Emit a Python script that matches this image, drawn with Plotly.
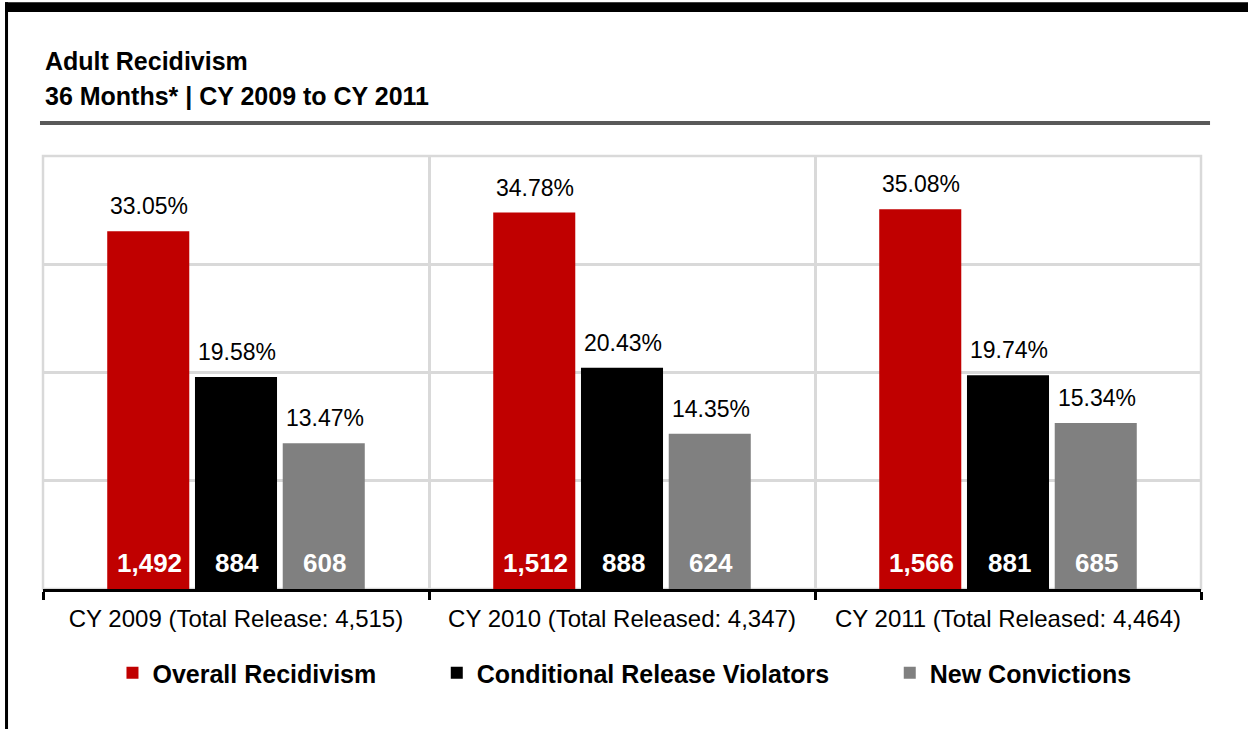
import plotly.graph_objects as go

categories = ["CY 2009 (Total Release: 4,515)",
              "CY 2010 (Total Released: 4,347)",
              "CY 2011 (Total Released: 4,464)"]
series_names = ["Overall Recidivism", "Conditional Release Violators", "New Convictions"]
overall_pct = [33.05, 34.78, 35.08]
overall_n = [1492, 1512, 1566]
crv_pct = [19.58, 20.43, 19.74]
crv_n = [884, 888, 881]
newc_pct = [13.47, 14.35, 15.34]
newc_n = [608, 624, 685]

colors = ["#C00000", "#000000", "#808080"]
FONT = "Liberation Sans, Arial, sans-serif"
NB = "\u00a0"

BARGAP = 0.318
PLOT_W = 1248 - 43 - 47
slot_px = PLOT_W / len(categories) * (1 - BARGAP) / 3

fig = go.Figure()
data = [(overall_pct, overall_n), (crv_pct, crv_n), (newc_pct, newc_n)]
legend_pad = [NB * 8, NB * 8, ""]
annotations = []
for i, (name, (pct, cnt)) in enumerate(zip(series_names, data)):
    fig.add_trace(go.Bar(
        x=categories, y=pct, name=name + legend_pad[i], offsetgroup=str(i),
        marker=dict(color=colors[i], line=dict(width=0)),
        hoverinfo="skip",
    ))
    shift = (i - 1) * slot_px + 1
    for c, p, n in zip(categories, pct, cnt):
        annotations.append(dict(
            x=c, y=p, xref="x", yref="y", text=f"{p:.2f}%", showarrow=False,
            xanchor="center", yanchor="middle", xshift=shift, yshift=25,
            font=dict(family=FONT, size=23, color="#000000")))
        annotations.append(dict(
            x=c, y=0, xref="x", yref="y", text=f"<b>{n:,}</b>", showarrow=False,
            xanchor="center", yanchor="middle", xshift=shift, yshift=26,
            font=dict(family=FONT, size=26, color="#FFFFFF")))

annotations += [
    dict(text="<b>Adult Recidivism</b>", xref="paper", yref="paper", x=0, y=1.219,
         xanchor="left", yanchor="middle", showarrow=False,
         font=dict(family=FONT, size=25, color="#000000")),
    dict(text="<b>36 Months* | CY 2009 to CY 2011</b>", xref="paper", yref="paper",
         x=0, y=1.1386, xanchor="left", yanchor="middle", showarrow=False,
         font=dict(family=FONT, size=25, color="#000000")),
]

GRID = "#D9D9D9"
fig.update_layout(
    width=1248, height=729,
    margin=dict(l=43, r=47, t=156, b=140),
    paper_bgcolor="white", plot_bgcolor="white",
    barmode="group", bargap=BARGAP, bargroupgap=0.065,
    font=dict(family=FONT, color="#000000"),
    showlegend=True,
    legend=dict(orientation="h", x=0.06, xanchor="left", y=-0.194, yanchor="middle",
                font=dict(family=FONT, size=25, color="#000000", weight="bold"),
                bgcolor="rgba(0,0,0,0)", traceorder="normal"),
    xaxis=dict(type="category", tickson="boundaries", showgrid=True, gridcolor=GRID,
               gridwidth=2.5, ticks="outside", ticklen=8, tickwidth=2.5, tickcolor="#000000",
               showline=True, linecolor="#000000", linewidth=3,
               tickfont=dict(family=FONT, size=24, color="#000000"),
               ticklabelstandoff=6),
    yaxis=dict(range=[0, 40], dtick=10, showgrid=True, gridcolor=GRID, gridwidth=2.5,
               showticklabels=False, zeroline=False, showline=False, ticks=""),
    shapes=[
        dict(type="rect", xref="paper", yref="paper", x0=0, x1=1, y0=0, y1=1,
             line=dict(color=GRID, width=2.5), layer="below"),
        dict(type="line", xref="paper", yref="paper", x0=-0.0026, x1=1.0078,
             y0=1.0762, y1=1.0762, line=dict(color="#595959", width=4)),
        dict(type="rect", xref="paper", yref="paper", x0=-0.0328, x1=1.05,
             y0=1.3326, y1=1.355, line=dict(width=0), fillcolor="#000000"),
        dict(type="rect", xref="paper", yref="paper", x0=-0.0328, x1=-0.0302,
             y0=-0.33, y1=1.355, line=dict(width=0), fillcolor="#000000"),
    ],
    annotations=annotations,
)

fig.write_html("out.html", config={"displayModeBar": False},
               post_script="document.body.style.margin='0';document.body.style.overflow='hidden';")
